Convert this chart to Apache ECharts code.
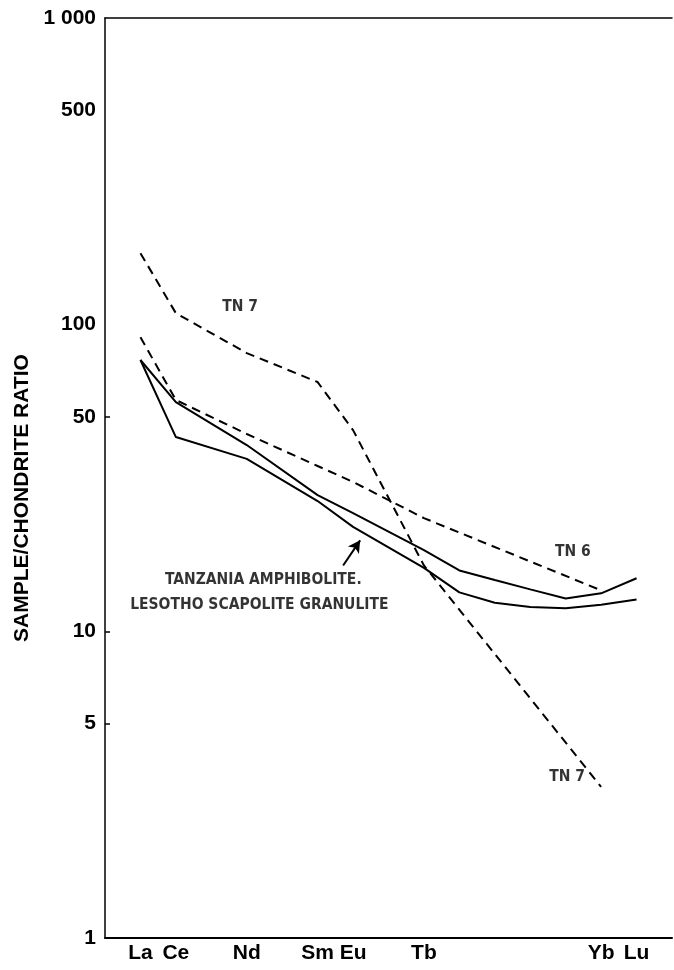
<!DOCTYPE html>
<html><head><meta charset="utf-8">
<script src="https://cdn.jsdelivr.net/npm/echarts@6/dist/echarts.min.js"></script>
<style>html,body{margin:0;padding:0;background:#fff}#c{width:674px;height:970px}</style>
</head><body><div id="c"></div>
<script>
// x positions are atomic numbers of the rare-earth elements
const elementNames = ['La','Ce','Nd','Sm','Eu','Tb','Yb','Lu'];
const elementZ = [57,58,60,62,63,65,70,71];

// dashed TN 7
const tn7Z = [57,58,60,62,63,65,70];
const tn7 = [171,109,80.8,65,45.3,16.4,3.11];
// dashed TN 6
const tn6Z = [57,58,60,62,63,65,70];
const tn6 = [91,56.8,44.0,34.6,30.7,23.4,13.6];
// solid curves (Tanzania amphibolite / Lesotho scapolite granulite)
const solidZ = [57,58,60,62,63,65,66,67,68,69,70,71];
const solidUpper = [76.7,55.9,40.5,27.8,24.3,18.4,15.8,14.7,13.7,12.8,13.3,14.9];
const solidLower = [76.7,43.0,36.5,26.6,21.9,16.1,13.4,12.4,12.0,11.9,12.2,12.7];

// y-axis tick labels
const yTickValues = [1,5,10,50,100,500,1000];
const yTickLabels = ['1','5','10','50','100','500','1 000'];
const yTickMarks = [5,10,50];

// annotations [Z, ratio]
const noteTN7a = [59.81,114];
const noteTN6 = [69.2,18.1];
const noteTN7b = [69.04,3.35];
const noteLine1 = [57.69,14.7];
const noteLine2 = [56.71,12.2];
const arrowFrom = [62.72,16.4];
const arrowTo = [63.2,19.8];

const ink = '#000';
const pairs = (xs, ys) => xs.map((x,i)=>[x,ys[i]]);
const zName = {}; elementZ.forEach((z,i)=>zName[z]=elementNames[i]);
const yLab = {}; yTickValues.forEach((v,i)=>yLab[v]=yTickLabels[i]);

const chart = echarts.init(document.getElementById('c'), null, {renderer:'canvas'});
const dashed = {color:ink, width:2, type:[9,6]};
const solid = {color:ink, width:2};
const noteFont = {color:ink, fontSize:15.5, fontWeight:'bold', fontFamily:"'DejaVu Sans Condensed','Liberation Sans Narrow',sans-serif"};

chart.setOption({
  animation:false,
  backgroundColor:'#fff',
  grid:{left:105, right:2, top:18, bottom:32},
  xAxis:[{
    type:'value', min:56, max:72, interval:1,
    axisLine:{lineStyle:{color:ink, width:2}},
    axisTick:{show:false}, splitLine:{show:false},
    axisLabel:{formatter:v=>zName[v]||'', color:ink, fontSize:21, fontWeight:'bold', fontFamily:"'Liberation Sans',sans-serif", margin:5, showMinLabel:false, showMaxLabel:false}
  },{
    type:'value', position:'top', min:56, max:72,
    axisLine:{show:true, lineStyle:{color:ink, width:1.5}},
    axisTick:{show:false}, axisLabel:{show:false}, splitLine:{show:false}
  }],
  yAxis:{
    type:'log', logBase:10, min:1, max:1000,
    axisLine:{show:true, lineStyle:{color:ink, width:1.5}},
    axisTick:{show:true, inside:true, length:5, lineStyle:{color:ink, width:1.5}, customValues:yTickMarks},
    splitLine:{show:false},
    axisLabel:{customValues:yTickValues, formatter:v=>yLab[v]!==undefined?yLab[v]:String(v), color:ink, fontSize:21, fontWeight:'bold', fontFamily:"'Liberation Sans',sans-serif", margin:9},
    name:'SAMPLE/CHONDRITE RATIO', nameLocation:'middle', nameRotate:90, nameGap:70,
    nameTextStyle:{color:ink, fontSize:21, fontWeight:'bold', fontFamily:"'Liberation Sans',sans-serif", padding:[0,40,0,0]}
  },
  series:[
    {type:'line', name:'TN 7', data:pairs(tn7Z,tn7), symbol:'none', lineStyle:dashed},
    {type:'line', name:'TN 6', data:pairs(tn6Z,tn6), symbol:'none', lineStyle:dashed},
    {type:'line', name:'upper solid', data:pairs(solidZ,solidUpper), symbol:'none', lineStyle:solid},
    {type:'line', name:'lower solid', data:pairs(solidZ,solidLower), symbol:'none', lineStyle:solid},
    {type:'scatter', name:'notes', symbolSize:0, silent:true,
      data:[
        {value:noteTN7a, label:{show:true, position:'inside', formatter:'TN 7', ...noteFont}},
        {value:noteTN6, label:{show:true, position:'inside', formatter:'TN 6', ...noteFont}},
        {value:noteTN7b, label:{show:true, position:'inside', formatter:'TN 7', ...noteFont}},
        {value:noteLine1, label:{show:true, position:'right', distance:0, formatter:'TANZANIA AMPHIBOLITE.', ...noteFont}},
        {value:noteLine2, label:{show:true, position:'right', distance:0, formatter:'LESOTHO SCAPOLITE GRANULITE', ...noteFont}}
      ],
      markLine:{silent:true, symbol:['none','arrow'], symbolSize:[10,12], label:{show:false},
        lineStyle:{color:ink, width:2, type:'solid'},
        data:[[{coord:arrowFrom},{coord:arrowTo}]]}
    }
  ]
});
</script></body></html>
